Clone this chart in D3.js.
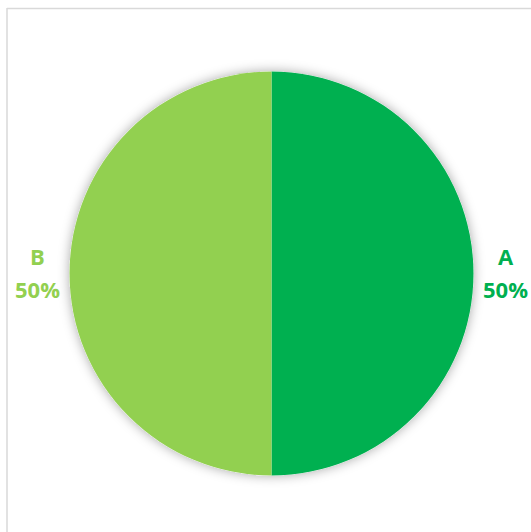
<!DOCTYPE html>
<html>
<head>
<meta charset="utf-8">
<script src="https://cdn.jsdelivr.net/npm/d3@7"></script>
<style>
  html, body { margin: 0; padding: 0; background: #fff; }
  svg { display: block; }
</style>
</head>
<body>
<svg id="chart" width="531" height="532"></svg>
<script>
// Share of each category
const categories = ["A", "B"];
const shares = [50, 50];
const colors = ["#00B050", "#92D050"];

const W = 531, H = 532;
const cx = 271.5, cy = 273.5, r = 202;

const svg = d3.select("#chart");

// Soft glow behind the pie
const defs = svg.append("defs");
const f = defs.append("filter").attr("id", "glow")
  .attr("x", "-20%").attr("y", "-20%").attr("width", "140%").attr("height", "140%");
f.append("feDropShadow").attr("dx", 0).attr("dy", 0)
  .attr("stdDeviation", 6).attr("flood-color", "#000").attr("flood-opacity", 0.35);

// Chart area frame (top and left edges visible)
svg.append("line").attr("x1", 7).attr("y1", 8.5).attr("x2", W).attr("y2", 8.5)
  .attr("stroke", "#d9d9d9").attr("stroke-width", 1.5);
svg.append("line").attr("x1", 7).attr("y1", 8).attr("x2", 7).attr("y2", H)
  .attr("stroke", "#d9d9d9").attr("stroke-width", 1.5);

const data = categories.map((c, i) => ({ name: c, value: shares[i], color: colors[i] }));

const pie = d3.pie().value(d => d.value).sort(null);
const arc = d3.arc().innerRadius(0).outerRadius(r);
const arcs = pie(data);

const g = svg.append("g").attr("transform", `translate(${cx},${cy})`);
g.append("circle").attr("r", r).attr("fill", "#fff").attr("filter", "url(#glow)");
g.selectAll("path.slice").data(arcs).join("path")
  .attr("class", "slice")
  .attr("d", arc)
  .attr("fill", d => d.data.color);

// Outside labels: name above percentage, placed beside each slice's mid-angle
const labelR = r + 32;
const total = d3.sum(shares);
const lbl = svg.append("g")
  .attr("font-family", "'Open Sans', 'Liberation Sans', sans-serif")
  .attr("font-weight", "bold")
  .attr("font-size", 22)
  .attr("text-anchor", "middle");
arcs.forEach(d => {
  const a = (d.startAngle + d.endAngle) / 2;
  const x = cx + Math.sin(a) * labelR;
  const y = cy - Math.cos(a) * labelR;
  const t = lbl.append("text").attr("fill", d.data.color);
  t.append("tspan").attr("x", x).attr("y", y - 9).text(d.data.name);
  t.append("tspan").attr("x", x).attr("y", y + 24.5)
    .text(Math.round(d.data.value / total * 100) + "%");
});
</script>
</body>
</html>
